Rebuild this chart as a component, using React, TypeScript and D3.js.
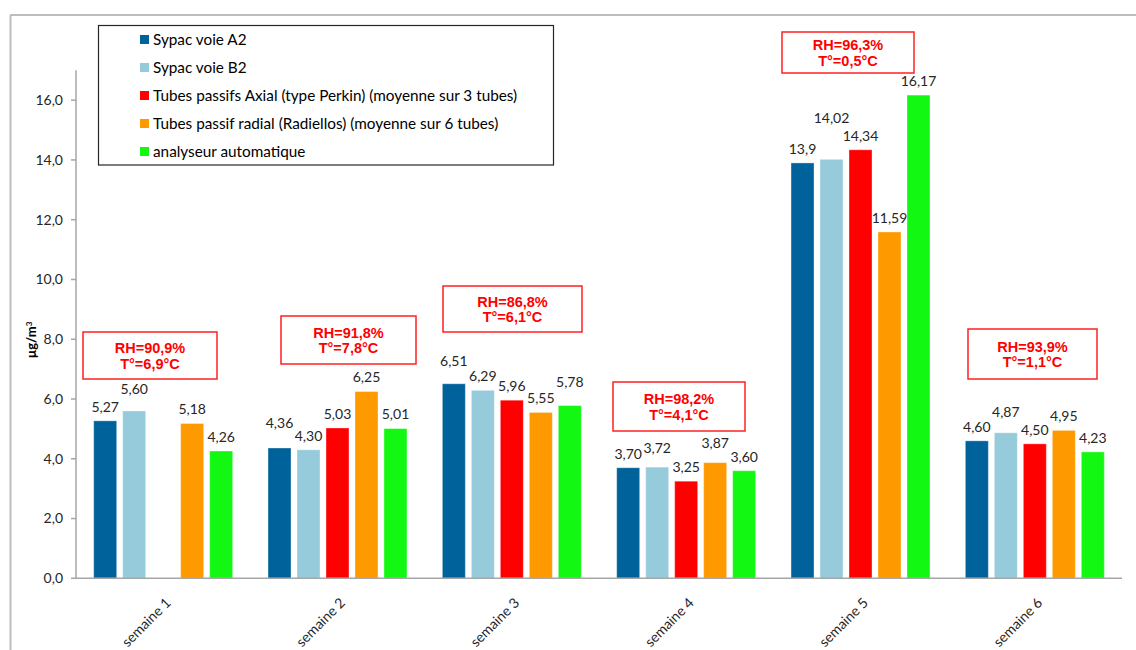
import React from "react";
import * as d3 from "d3";

// Weekly concentrations (µg/m³) per sampling method
const weeks = ["semaine 1", "semaine 2", "semaine 3", "semaine 4", "semaine 5", "semaine 6"];
const seriesNames = [
  "Sypac voie A2",
  "Sypac voie B2",
  "Tubes passifs Axial (type Perkin) (moyenne sur 3 tubes)",
  "Tubes passif radial (Radiellos) (moyenne sur 6 tubes)",
  "analyseur automatique",
];
const sypacA2 = ["5,27", "4,36", "6,51", "3,70", "13,9", "4,60"];
const sypacB2 = ["5,60", "4,30", "6,29", "3,72", "14,02", "4,87"];
const tubesAxial = [null, "5,03", "5,96", "3,25", "14,34", "4,50"];
const tubesRadial = ["5,18", "6,25", "5,55", "3,87", "11,59", "4,95"];
const analyseur = ["4,26", "5,01", "5,78", "3,60", "16,17", "4,23"];
const yTicks = [0, 2, 4, 6, 8, 10, 12, 14, 16];

// Weather conditions noted for each week
const humidity = ["RH=90,9%", "RH=91,8%", "RH=86,8%", "RH=98,2%", "RH=96,3%", "RH=93,9%"];
const temperature = ["T°=6,9°C", "T°=7,8°C", "T°=6,1°C", "T°=4,1°C", "T°=0,5°C", "T°=1,1°C"];

const colors = ["#00629A", "#96CBDC", "#FF0000", "#FF9900", "#12F812"];

// Layout: boxes for the weather notes [x, y, w, h]
const noteBoxes = [
  [83, 332, 134, 47],
  [281, 316, 135, 48],
  [443, 286, 139, 46],
  [613, 382, 132, 49],
  [782, 32, 132, 41],
  [968, 329, 129, 50],
];
// Extra lift (px) applied to some value labels to keep them apart
const labelLift = [
  [0, 8, 0, 0, 0],
  [11, 0, 0, 0, 0],
  [9, 0, 0, 0, 9],
  [0, 5, 0, 6, 0],
  [0, 27, 0, 0, 0],
  [0, 7, 0, 0, 0],
];

const W = 1136;
const H = 650;
const plot = { left: 76, right: 1122, bottom: 578.3, top: 70.3 };

const parse = (s: string | null) => (s == null ? null : parseFloat(s.replace(",", ".")));

export default function App() {
  const seriesLabels = [sypacA2, sypacB2, tubesAxial, tubesRadial, analyseur];

  const x = d3.scaleBand<string>().domain(weeks).range([plot.left, plot.right]).padding(0);
  const xs = d3
    .scaleBand<string>()
    .domain(seriesNames)
    .range([0, x.bandwidth()])
    .paddingInner(0.207)
    .paddingOuter(0.61);
  const y = d3.scaleLinear().domain([0, 17]).range([plot.bottom, plot.top]);
  const fmt = (v: number) => d3.format(".1f")(v).replace(".", ",");

  const axisColor = "#A6A6A6";
  const textColor = "#262626";

  return (
    <svg
      width={W}
      height={H}
      style={{ position: "absolute", left: 0, top: 0, background: "#fff" }}
      fontFamily="Lato, 'Open Sans', sans-serif"
    >
      {/* outer frame */}
      <line x1={10} x2={W} y1={15} y2={15} stroke="#BDBDBD" strokeWidth={2} />
      <line x1={10.5} x2={10.5} y1={15} y2={H} stroke="#BDBDBD" strokeWidth={2} />

      {/* y axis */}
      <line x1={plot.left} x2={plot.left} y1={plot.top} y2={plot.bottom} stroke={axisColor} strokeWidth={1.5} />
      {yTicks.map((t) => (
        <g key={t}>
          <line x1={plot.left - 5} x2={plot.left} y1={y(t)} y2={y(t)} stroke={axisColor} strokeWidth={1.5} />
          <text x={plot.left - 13} y={y(t)} dy="0.35em" textAnchor="end" fontSize={14} fill={textColor}>
            {fmt(t)}
          </text>
        </g>
      ))}
      <text
        transform={`translate(31, 340) rotate(-90)`}
        textAnchor="middle"
        fontSize={13}
        fontWeight="bold"
        fill="#000"
        dy="0.35em"
      >
        µg/m<tspan dy="-0.45em" fontSize={8}>3</tspan>
      </text>

      {/* bars */}
      {weeks.map((w, i) => (
        <g key={w} transform={`translate(${x(w)},0)`}>
          {seriesNames.map((s, j) => {
            const label = seriesLabels[j][i];
            const v = parse(label);
            if (v == null) return null;
            const bx = xs(s)!;
            return (
              <g key={s}>
                <rect
                  x={bx}
                  y={y(v)}
                  width={xs.bandwidth()}
                  height={plot.bottom - y(v)}
                  fill={colors[j]}
                  stroke="#fff"
                  strokeOpacity={0.35}
                  strokeWidth={1}
                />
                <text
                  x={bx + xs.bandwidth() / 2}
                  y={y(v) - 14 - labelLift[i][j]}
                  dy="0.35em"
                  textAnchor="middle"
                  fontSize={14}
                  fill={textColor}
                >
                  {label}
                </text>
              </g>
            );
          })}
        </g>
      ))}

      {/* x axis */}
      <line x1={plot.left} x2={plot.right} y1={plot.bottom} y2={plot.bottom} stroke={axisColor} strokeWidth={1.5} />
      {weeks.map((w) => {
        const cx = x(w)! + x.bandwidth() / 2;
        return (
          <text
            key={w}
            transform={`translate(${cx + 5}, ${plot.bottom + 22}) rotate(-45)`}
            textAnchor="end"
            dy="0.35em"
            fontSize={14}
            fill={textColor}
          >
            {w}
          </text>
        );
      })}

      {/* weather notes */}
      {noteBoxes.map(([bx, by, bw, bh], i) => (
        <g key={i}>
          <rect x={bx} y={by} width={bw} height={bh} fill="#fff" stroke="#FF2020" strokeWidth={1.5} />
          <text
            x={bx + bw / 2}
            textAnchor="middle"
            fontFamily="'Liberation Sans', Arial, sans-serif"
            fontWeight="bold"
            fontSize={14.5}
            fill="#FF0000"
          >
            <tspan x={bx + bw / 2} y={by + bh / 2 - 7.5} dy="0.35em">
              {humidity[i]}
            </tspan>
            <tspan x={bx + bw / 2} y={by + bh / 2 + 8} dy="0.35em">
              {temperature[i]}
            </tspan>
          </text>
        </g>
      ))}

      {/* legend */}
      <rect x={98.5} y={25.5} width={455} height={139.5} fill="#fff" stroke="#262626" strokeWidth={1.2} />
      {seriesNames.map((s, j) => {
        const cy = 39.5 + j * 28;
        return (
          <g key={s}>
            <rect x={140} y={cy - 4.5} width={9} height={9} fill={colors[j]} />
            <text x={153} y={cy} dy="0.35em" fontSize={15.3} fill="#000">
              {s}
            </text>
          </g>
        );
      })}
    </svg>
  );
}
